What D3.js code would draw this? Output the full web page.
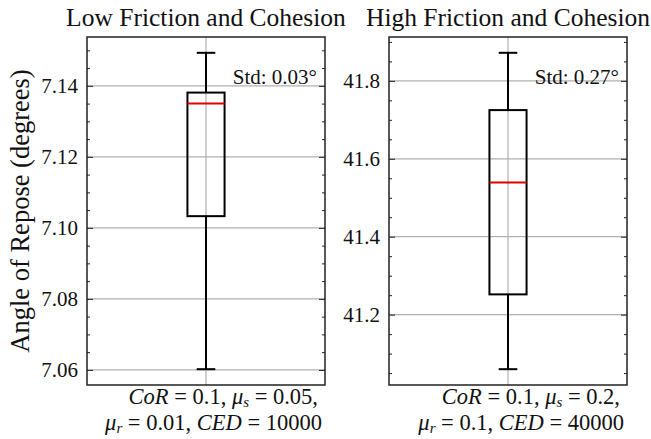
<!DOCTYPE html>
<html>
<head>
<meta charset="utf-8">
<script src="https://cdn.jsdelivr.net/npm/d3@7"></script>
<style>
  body { margin: 0; background: #fff; }
  text { font-family: "Liberation Serif", "DejaVu Serif", serif; fill: #111; }
</style>
</head>
<body>
<div class="chart"></div>
<script>
// chart values
var titles = ["Low Friction and Cohesion", "High Friction and Cohesion"];
var whiskerLow = [7.0602, 41.060];
var q1 = [7.1033, 41.252];
var medians = [7.1350, 41.539];
var q3 = [7.1381, 41.725];
var whiskerHigh = [7.1493, 41.872];
var stdLabels = ["Std: 0.03°", "Std: 0.27°"];
var paramLine1 = [["CoR", "0.1", "s", "0.05"], ["CoR", "0.1", "s", "0.2"]];
var paramLine2 = [["r", "0.01", "CED", "10000"], ["r", "0.1", "CED", "40000"]];

var svgWidth = 651;
var svgHeight = 439;

var svg = d3.select(".chart")
  .append("svg")
  .attr("width", svgWidth)
  .attr("height", svgHeight);

var panels = [
  {left: 87, right: 325},
  {left: 389, right: 627}
];
var plotTop = 37, plotBottom = 385;

// y label
svg.append("text")
  .attr("transform", `translate(29, ${(plotTop + plotBottom) / 2}) rotate(-90)`)
  .attr("text-anchor", "middle")
  .style("font-size", "26.5px")
  .text("Angle of Repose (degrees)");

panels.forEach(function(p, i) {
  var g = svg.append("g");
  var w = p.right - p.left;

  // matplotlib-like 5% margins around the data
  var span = whiskerHigh[i] - whiskerLow[i];
  var y = d3.scaleLinear()
    .domain([whiskerLow[i] - span * 0.05, whiskerHigh[i] + span * 0.05])
    .range([plotBottom, plotTop]);
  var x = d3.scaleLinear().domain([0, 1]).range([p.left, p.right]);

  var majors = y.ticks(5);
  var minors = y.ticks(20).filter(t => !majors.some(m => Math.abs(m - t) < 1e-9));

  // grid
  g.selectAll(".hgrid")
    .data(majors)
    .enter()
    .append("line")
    .attr("x1", p.left).attr("x2", p.right)
    .attr("y1", d => y(d)).attr("y2", d => y(d))
    .attr("stroke", "#b0b0b0")
    .attr("stroke-width", 1.2);

  g.append("line")
    .attr("x1", x(0.5)).attr("x2", x(0.5))
    .attr("y1", plotTop).attr("y2", plotBottom)
    .attr("stroke", "#b0b0b0")
    .attr("stroke-width", 1.2);

  // axes with inward ticks
  var fmt = d3.format(i == 0 ? ".2f" : ".1f");
  var leftAxis = g.append("g")
    .attr("transform", `translate(${p.left}, 0)`)
    .call(d3.axisLeft(y).tickValues(majors).tickSize(-6).tickPadding(9).tickFormat(fmt))
    .attr("font-family", "'Liberation Serif', serif");
  leftAxis.selectAll("text")
    .style("font-size", "21px")
    .style("font-family", "'Liberation Serif', serif")
    .attr("fill", "#111");

  g.append("g")
    .attr("transform", `translate(${p.left}, 0)`)
    .call(d3.axisLeft(y).tickValues(minors).tickSize(-3).tickFormat(""));
  g.append("g")
    .attr("transform", `translate(${p.right}, 0)`)
    .call(d3.axisRight(y).tickValues(majors).tickSize(-6).tickFormat(""));
  g.append("g")
    .attr("transform", `translate(${p.right}, 0)`)
    .call(d3.axisRight(y).tickValues(minors).tickSize(-3).tickFormat(""));
  g.selectAll(".domain").remove();
  g.selectAll(".tick line").attr("stroke", "#222").attr("stroke-width", 1);

  // frame
  g.append("rect")
    .attr("x", p.left).attr("y", plotTop)
    .attr("width", w).attr("height", plotBottom - plotTop)
    .attr("fill", "none")
    .attr("stroke", "#222")
    .attr("stroke-width", 1.5);

  // box plot
  var cx = x(0.5);
  var half = w * 0.078;
  var cap = half / 2;

  g.append("line")
    .attr("x1", cx).attr("x2", cx)
    .attr("y1", y(whiskerLow[i])).attr("y2", y(q1[i]))
    .attr("stroke", "#000").attr("stroke-width", 2);
  g.append("line")
    .attr("x1", cx).attr("x2", cx)
    .attr("y1", y(q3[i])).attr("y2", y(whiskerHigh[i]))
    .attr("stroke", "#000").attr("stroke-width", 2);
  [whiskerLow[i], whiskerHigh[i]].forEach(function(v) {
    g.append("line")
      .attr("x1", cx - cap).attr("x2", cx + cap)
      .attr("y1", y(v)).attr("y2", y(v))
      .attr("stroke", "#000").attr("stroke-width", 2);
  });
  g.append("rect")
    .attr("x", cx - half).attr("y", y(q3[i]))
    .attr("width", half * 2).attr("height", y(q1[i]) - y(q3[i]))
    .attr("fill", "none")
    .attr("stroke", "#000").attr("stroke-width", 2);
  g.append("line")
    .attr("x1", cx - half).attr("x2", cx + half)
    .attr("y1", y(medians[i])).attr("y2", y(medians[i]))
    .attr("stroke", "#e00000").attr("stroke-width", 2);

  // title
  svg.append("text")
    .attr("x", (p.left + p.right) / 2)
    .attr("y", 26)
    .attr("text-anchor", "middle")
    .style("font-size", "25.5px")
    .text(titles[i]);

  // std annotation
  svg.append("text")
    .attr("x", p.right - 8)
    .attr("y", plotTop + 47)
    .attr("text-anchor", "end")
    .style("font-size", "21px")
    .text(stdLabels[i]);

  // parameter label (two lines, right aligned)
  var a = paramLine1[i], b = paramLine2[i];
  var t1 = svg.append("text")
    .attr("x", p.right - 7).attr("y", 404)
    .attr("text-anchor", "end")
    .style("font-size", "22.5px");
  t1.append("tspan").style("font-style", "italic").text(a[0]);
  t1.append("tspan").text(" = " + a[1] + ", ");
  t1.append("tspan").style("font-style", "italic").text("μ");
  t1.append("tspan").style("font-style", "italic").style("font-size", "15px").attr("dy", 3).text(a[2]);
  t1.append("tspan").attr("dy", -3).text(" = " + a[3] + ",");

  var t2 = svg.append("text")
    .attr("x", p.right - 3).attr("y", 430)
    .attr("text-anchor", "end")
    .style("font-size", "22.5px");
  t2.append("tspan").style("font-style", "italic").text("μ");
  t2.append("tspan").style("font-style", "italic").style("font-size", "15px").attr("dy", 3).text(b[0]);
  t2.append("tspan").attr("dy", -3).text(" = " + b[1] + ", ");
  t2.append("tspan").style("font-style", "italic").text(b[2]);
  t2.append("tspan").text(" = " + b[3]);
});
</script>
</body>
</html>
